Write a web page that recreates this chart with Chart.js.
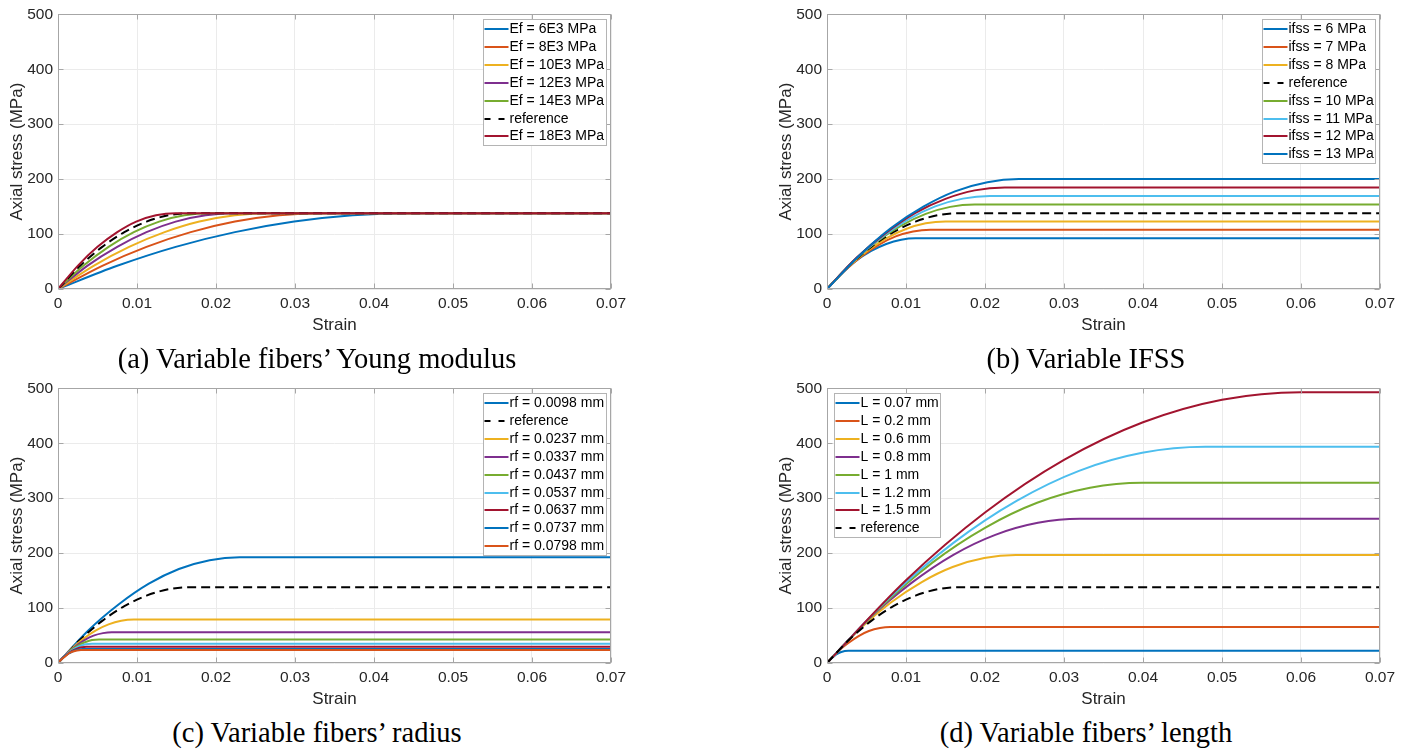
<!DOCTYPE html>
<html>
<head>
<meta charset="utf-8">
<script src="https://cdn.jsdelivr.net/npm/chart.js@4.4.1/dist/chart.umd.min.js"></script>
<style>
  html, body { margin: 0; padding: 0; background: #fff; overflow: hidden; }
  body { width: 1411px; height: 752px; position: relative; }
  .panel { position: absolute; width: 640px; height: 340px; }
  .caption {
    position: absolute; width: 634px; text-align: center;
    font: 28.5px/32px "Liberation Serif", serif; color: #000; white-space: nowrap;
  }
</style>
</head>
<body>
<div class="panel" style="left:0;top:0"><canvas id="chartYoung"></canvas></div>
<div class="panel" style="left:769px;top:0"><canvas id="chartIfss"></canvas></div>
<div class="panel" style="left:0;top:374px"><canvas id="chartRadius"></canvas></div>
<div class="panel" style="left:769px;top:374px"><canvas id="chartLength"></canvas></div>

<div class="caption" style="left:0;top:343px">(a) Variable fibers’ Young modulus</div>
<div class="caption" style="left:769px;top:343px">(b) Variable IFSS</div>
<div class="caption" style="left:0;top:717px">(c) Variable fibers’ radius</div>
<div class="caption" style="left:769px;top:717px">(d) Variable fibers’ length</div>

<script>
// ── Axes ──
const strainTicks = [0, 0.01, 0.02, 0.03, 0.04, 0.05, 0.06, 0.07];
const stressTicks = [0, 100, 200, 300, 400, 500];

// [strain, stress (MPa)] points, curve ends on its plateau at strain 0.07
const referenceCurve = [[0,0],[0.0028,42.2],[0.0056,76.7],[0.0084,103.5],[0.0112,122.7],[0.0140,134.2],[0.0168,138],[0.07,138]];

// (a) fibers' Young modulus
const youngLabels = ['Ef = 6E3 MPa', 'Ef = 8E3 MPa', 'Ef = 10E3 MPa', 'Ef = 12E3 MPa', 'Ef = 14E3 MPa', 'reference', 'Ef = 18E3 MPa'];
const youngCurves = [
  [[0,0],[0.0075,42.2],[0.0149,76.7],[0.0224,103.5],[0.0299,122.7],[0.0373,134.2],[0.0448,138],[0.07,138]],
  [[0,0],[0.0056,42.2],[0.0112,76.7],[0.0168,103.5],[0.0224,122.7],[0.0280,134.2],[0.0336,138],[0.07,138]],
  [[0,0],[0.0045,42.2],[0.0090,76.7],[0.0135,103.5],[0.0179,122.7],[0.0224,134.2],[0.0269,138],[0.07,138]],
  [[0,0],[0.0037,42.2],[0.0075,76.7],[0.0112,103.5],[0.0149,122.7],[0.0187,134.2],[0.0224,138],[0.07,138]],
  [[0,0],[0.0032,42.2],[0.0064,76.7],[0.0096,103.5],[0.0128,122.7],[0.0160,134.2],[0.0192,138],[0.07,138]],
  referenceCurve,
  [[0,0],[0.0025,42.2],[0.0050,76.7],[0.0075,103.5],[0.0099,122.7],[0.0124,134.2],[0.0149,138],[0.07,138]],
];

// (b) interfacial shear strength
const ifssLabels = ['ifss = 6 MPa', 'ifss = 7 MPa', 'ifss = 8 MPa', 'reference', 'ifss = 10 MPa', 'ifss = 11 MPa', 'ifss = 12 MPa', 'ifss = 13 MPa'];
const ifssCurves = [
  [[0,0],[0.0019,28.2],[0.0037,51.3],[0.0056,69.2],[0.0075,82.0],[0.0094,89.7],[0.0112,92.3],[0.07,92.3]],
  [[0,0],[0.0022,32.9],[0.0044,59.8],[0.0066,80.8],[0.0087,95.7],[0.0109,104.7],[0.0131,107.7],[0.07,107.7]],
  [[0,0],[0.0025,37.6],[0.0050,68.3],[0.0075,92.3],[0.0100,109.3],[0.0125,119.6],[0.0150,123],[0.07,123]],
  referenceCurve,
  [[0,0],[0.0031,47.0],[0.0062,85.4],[0.0094,115.4],[0.0125,136.7],[0.0156,149.5],[0.0187,153.8],[0.07,153.8]],
  [[0,0],[0.0034,51.7],[0.0069,94.0],[0.0103,126.9],[0.0137,150.4],[0.0172,164.5],[0.0206,169.2],[0.07,169.2]],
  [[0,0],[0.0037,56.4],[0.0075,102.6],[0.0112,138.5],[0.0150,164.1],[0.0187,179.5],[0.0225,184.6],[0.07,184.6]],
  [[0,0],[0.0041,61.1],[0.0081,111.1],[0.0122,150],[0.0162,177.8],[0.0203,194.4],[0.0243,200],[0.07,200]],
];

// (c) fibers' radius
const radiusLabels = ['rf = 0.0098 mm', 'reference', 'rf = 0.0237 mm', 'rf = 0.0337 mm', 'rf = 0.0437 mm', 'rf = 0.0537 mm', 'rf = 0.0637 mm', 'rf = 0.0737 mm', 'rf = 0.0798 mm'];
const radiusCurves = [
  [[0,0],[0.0038,58.8],[0.0077,106.9],[0.0115,144.4],[0.0153,171.1],[0.0192,187.1],[0.0230,192.5],[0.07,192.5]],
  referenceCurve,
  [[0,0],[0.0016,24.1],[0.0032,43.9],[0.0048,59.3],[0.0064,70.2],[0.0080,76.8],[0.0096,79],[0.07,79]],
  [[0,0],[0.0011,17.1],[0.0023,31.1],[0.0034,42],[0.0045,49.8],[0.0057,54.4],[0.0068,56],[0.07,56]],
  [[0,0],[0.0009,13.1],[0.0017,23.9],[0.0026,32.3],[0.0035,38.2],[0.0043,41.8],[0.0052,43],[0.07,43]],
  [[0,0],[0.0007,10.7],[0.0014,19.4],[0.0021,26.3],[0.0028,31.1],[0.0035,34.0],[0.0043,35],[0.07,35]],
  [[0,0],[0.0006,9.0],[0.0012,16.4],[0.0018,22.1],[0.0024,26.2],[0.0030,28.7],[0.0036,29.5],[0.07,29.5]],
  [[0,0],[0.0005,7.8],[0.0010,14.2],[0.0016,19.1],[0.0021,22.7],[0.0026,24.8],[0.0031,25.5],[0.07,25.5]],
  [[0,0],[0.0005,7.2],[0.0010,13.1],[0.0014,17.7],[0.0019,21.0],[0.0024,22.9],[0.0029,23.6],[0.07,23.6]],
];

// (d) fibers' length
const lengthLabels = ['L = 0.07 mm', 'L = 0.2 mm', 'L = 0.6 mm', 'L = 0.8 mm', 'L = 1 mm', 'L = 1.2 mm', 'L = 1.5 mm', 'reference'];
const lengthCurves = [
  [[0,0],[0.00045,6.9],[0.0009,12.5],[0.00135,16.9],[0.0018,20.0],[0.00225,21.9],[0.0027,22.5],[0.07,22.5]],
  [[0,0],[0.0013,20.0],[0.0027,36.4],[0.0040,49.1],[0.0053,58.2],[0.0067,63.7],[0.0080,65.5],[0.07,65.5]],
  [[0,0],[0.0040,60.0],[0.0080,109.2],[0.0120,147.4],[0.0159,174.7],[0.0199,191.0],[0.0239,196.5],[0.07,196.5]],
  [[0,0],[0.0053,80.2],[0.0107,145.8],[0.0160,196.9],[0.0213,233.3],[0.0267,255.2],[0.0320,262.5],[0.07,262.5]],
  [[0,0],[0.0067,100.2],[0.0133,182.2],[0.0200,246],[0.0266,291.6],[0.0333,318.9],[0.0399,328],[0.07,328]],
  [[0,0],[0.0080,120.3],[0.0160,218.6],[0.0240,295.1],[0.0319,349.8],[0.0399,382.6],[0.0479,393.5],[0.07,393.5]],
  [[0,0],[0.0100,150.7],[0.0200,273.9],[0.0300,369.8],[0.0400,438.2],[0.0500,479.3],[0.0600,493],[0.07,493]],
  referenceCurve,
];

// MATLAB default line colours
const BLUE = '#0072BD', ORANGE = '#D95319', YELLOW = '#EDB120', PURPLE = '#7E2F8E',
      GREEN = '#77AC30', CYAN = '#4DBEEE', RED = '#A2142F';

const youngColors  = [BLUE, ORANGE, YELLOW, PURPLE, GREEN, '#000', RED];
const ifssColors   = [BLUE, ORANGE, YELLOW, '#000', GREEN, CYAN, RED, BLUE];
const radiusColors = [BLUE, '#000', YELLOW, PURPLE, GREEN, CYAN, RED, BLUE, ORANGE];
const lengthColors = [BLUE, ORANGE, YELLOW, PURPLE, GREEN, CYAN, RED, '#000'];

const AXIS_GREY = '#a6a6a6';
const TEXT = '#262626';
const SANS = '"Liberation Sans", Arial, sans-serif';

// box round the plot area, with MATLAB-style inward ticks on all four sides
const axesBox = {
  id: 'axesBox',
  afterDatasetsDraw(chart) {
    const { ctx, chartArea: a, scales: { x, y } } = chart;
    const L = Math.round(a.left) + 0.5, R = Math.round(a.right) - 0.5;
    const T = Math.round(a.top) + 0.5, B = Math.round(a.bottom) - 0.5;
    ctx.save();
    ctx.strokeStyle = AXIS_GREY;
    ctx.lineWidth = 1;
    ctx.strokeRect(L, T, R - L, B - T);
    ctx.beginPath();
    strainTicks.forEach(v => {
      const px = Math.round(x.getPixelForValue(v)) + 0.5;
      ctx.moveTo(px, B); ctx.lineTo(px, B - 5);
      ctx.moveTo(px, T); ctx.lineTo(px, T + 5);
    });
    stressTicks.forEach(v => {
      const py = Math.round(y.getPixelForValue(v)) + 0.5;
      ctx.moveTo(L, py); ctx.lineTo(L + 5, py);
      ctx.moveTo(R, py); ctx.lineTo(R - 5, py);
    });
    ctx.stroke();
    ctx.restore();
  },
};

// legend drawn inside the axes, top-left or top-right corner
const insetLegend = {
  id: 'insetLegend',
  afterDraw(chart, args, opts) {
    const { ctx, chartArea: a } = chart;
    const sets = chart.data.datasets;
    const rowH = 17.9;
    ctx.save();
    ctx.font = `14px ${SANS}`;
    const textW = Math.max(...sets.map(d => ctx.measureText(d.label).width));
    const w = Math.round(textW + 28);
    const h = Math.round(sets.length * rowH + 1);
    const left = Math.round(opts.side === 'left' ? a.left + 7 : a.right - 5 - w) + 0.5;
    const top = Math.round(a.top + 5) + 0.5;
    ctx.fillStyle = '#fff';
    ctx.fillRect(left, top, w, h);
    ctx.strokeStyle = '#b4b4b4';
    ctx.lineWidth = 1;
    ctx.strokeRect(left, top, w, h);
    ctx.textBaseline = 'middle';
    sets.forEach((d, i) => {
      const cy = Math.round(top + 9.5 + i * rowH);
      ctx.strokeStyle = d.borderColor;
      ctx.lineWidth = 2;
      ctx.setLineDash(d.borderDash ? [6, 8] : []);
      ctx.beginPath();
      ctx.moveTo(left + 1, cy);
      ctx.lineTo(left + 25, cy);
      ctx.stroke();
      ctx.fillStyle = '#000';
      ctx.fillText(d.label, left + 26, cy + 0.5);
    });
    ctx.restore();
  },
};

function makeChart(id, labels, curves, colors, side) {
  const datasets = curves.map((pts, i) => ({
    label: labels[i],
    data: pts.map(([x, y]) => ({ x, y })),
    borderColor: colors[i],
    borderWidth: 2,
    borderDash: labels[i] === 'reference' ? [9, 5] : undefined,
    pointRadius: 0,
    cubicInterpolationMode: 'monotone',
    order: curves.length - i,   // later curves on top
  }));

  return new Chart(document.getElementById(id), {
    type: 'line',
    data: { datasets },
    plugins: [axesBox, insetLegend],
    options: {
      responsive: true,
      maintainAspectRatio: false,
      animation: false,
      events: [],
      layout: { padding: { left: 0, top: 11, right: 29, bottom: 0 } },
      plugins: {
        legend: { display: false },
        tooltip: { enabled: false },
        insetLegend: { side },
      },
      scales: {
        x: {
          type: 'linear',
          min: 0, max: 0.07,
          afterBuildTicks: s => { s.ticks = strainTicks.map(v => ({ value: v })); },
          afterFit: s => { s.height = 51; },
          ticks: {
            color: TEXT, padding: 5, maxRotation: 0,
            font: { family: SANS, size: 15.5 },
            callback: v => String(+v.toFixed(2)),
          },
          grid: { color: '#ebebeb', drawTicks: false },
          border: { display: false },
          title: {
            display: true, text: 'Strain', color: TEXT,
            font: { family: SANS, size: 17 }, padding: { top: 0, bottom: 4 },
          },
        },
        y: {
          min: 0, max: 500,
          afterBuildTicks: s => { s.ticks = stressTicks.map(v => ({ value: v })); },
          afterFit: s => { s.width = 58; },
          ticks: {
            color: TEXT, padding: 5,
            font: { family: SANS, size: 15.5 },
          },
          grid: { color: '#ebebeb', drawTicks: false },
          border: { display: false },
          title: {
            display: true, text: 'Axial stress (MPa)', color: TEXT,
            font: { family: SANS, size: 17 }, padding: { top: 7, bottom: 0 },
          },
        },
      },
    },
  });
}

makeChart('chartYoung',  youngLabels,  youngCurves,  youngColors,  'right');
makeChart('chartIfss',   ifssLabels,   ifssCurves,   ifssColors,   'right');
makeChart('chartRadius', radiusLabels, radiusCurves, radiusColors, 'right');
makeChart('chartLength', lengthLabels, lengthCurves, lengthColors, 'left');
</script>
</body>
</html>
